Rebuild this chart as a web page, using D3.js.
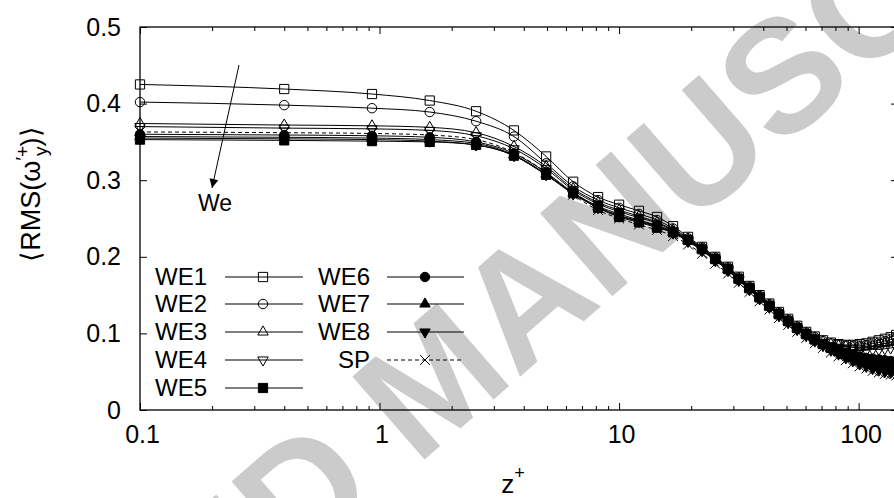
<!DOCTYPE html>
<html>
<head>
<meta charset="utf-8">
<script src="https://cdn.jsdelivr.net/npm/d3@7"></script>
<style>
  body { margin: 0; background: #fff; }
  text { font-family: "Liberation Sans", Arial, sans-serif; fill: #000; }
</style>
</head>
<body>
<div id="chart"></div>
<script>
const ancho = 894
const alto = 498

// z+ positions of the points
const zPlus = [0.1, 0.4, 0.93, 1.62, 2.53, 3.64, 4.96, 6.43, 8.17, 10, 12.1, 14.4, 16.8, 19.4,
  22.2, 25.2, 28.5, 31.6, 35, 38.6, 42.4, 46.5, 50.8, 55.4,
  60.4, 65.6, 71, 76.6, 82.4, 88.4, 94.6, 101, 107.6, 114.4, 121.4, 128.6, 136, 143.6]

const we1 = [0.425, 0.419, 0.4125, 0.404, 0.390, 0.365, 0.331, 0.298, 0.278, 0.268, 0.260, 0.252, 0.240, 0.226,
  0.213, 0.200, 0.187, 0.174, 0.162, 0.150, 0.139, 0.128, 0.119, 0.110,
  0.102, 0.096, 0.091, 0.088, 0.086, 0.085, 0.085, 0.086, 0.087, 0.089, 0.091, 0.093, 0.095, 0.098]
const we2 = [0.402, 0.398, 0.394, 0.389, 0.377, 0.357, 0.322, 0.292, 0.274, 0.264, 0.256, 0.248, 0.237, 0.224,
  0.212, 0.199, 0.186, 0.173, 0.161, 0.149, 0.138, 0.127, 0.118, 0.109,
  0.101, 0.095, 0.090, 0.087, 0.085, 0.084, 0.084, 0.084, 0.085, 0.087, 0.088, 0.090, 0.092, 0.094]
const we3 = [0.374, 0.372, 0.371, 0.369, 0.362, 0.344, 0.318, 0.289, 0.271, 0.261, 0.253, 0.245, 0.235, 0.223,
  0.211, 0.198, 0.185, 0.172, 0.160, 0.148, 0.137, 0.126, 0.117, 0.108,
  0.100, 0.094, 0.089, 0.086, 0.084, 0.083, 0.082, 0.082, 0.083, 0.084, 0.085, 0.087, 0.088, 0.090]
const we4 = [0.370, 0.368, 0.367, 0.365, 0.358, 0.341, 0.315, 0.287, 0.269, 0.259, 0.251, 0.244, 0.234, 0.222,
  0.210, 0.197, 0.184, 0.171, 0.159, 0.147, 0.136, 0.125, 0.116, 0.107,
  0.099, 0.093, 0.088, 0.084, 0.081, 0.079, 0.078, 0.078, 0.078, 0.079, 0.079, 0.080, 0.081, 0.082]
const we5 = [0.353, 0.352, 0.351, 0.350, 0.346, 0.332, 0.307, 0.283, 0.264, 0.252, 0.245, 0.238, 0.232, 0.222,
  0.210, 0.197, 0.184, 0.171, 0.159, 0.147, 0.136, 0.125, 0.116, 0.107,
  0.099, 0.092, 0.086, 0.081, 0.077, 0.073, 0.070, 0.067, 0.065, 0.063, 0.061, 0.060, 0.059, 0.058]
const we6 = [0.360, 0.359, 0.358, 0.356, 0.350, 0.335, 0.310, 0.284, 0.266, 0.256, 0.248, 0.241, 0.233, 0.221,
  0.209, 0.196, 0.183, 0.170, 0.158, 0.146, 0.135, 0.124, 0.115, 0.106,
  0.098, 0.092, 0.086, 0.082, 0.078, 0.075, 0.072, 0.070, 0.068, 0.067, 0.066, 0.065, 0.064, 0.064]
const we7 = [0.357, 0.356, 0.355, 0.353, 0.348, 0.333, 0.308, 0.283, 0.265, 0.254, 0.247, 0.240, 0.232, 0.221,
  0.209, 0.196, 0.183, 0.170, 0.158, 0.146, 0.135, 0.124, 0.115, 0.106,
  0.098, 0.091, 0.085, 0.080, 0.075, 0.071, 0.067, 0.063, 0.060, 0.058, 0.056, 0.054, 0.053, 0.052]
const we8 = [0.355, 0.354, 0.353, 0.351, 0.346, 0.332, 0.307, 0.282, 0.264, 0.253, 0.246, 0.239, 0.231, 0.220,
  0.208, 0.195, 0.182, 0.169, 0.157, 0.145, 0.134, 0.123, 0.114, 0.105,
  0.097, 0.090, 0.084, 0.078, 0.073, 0.068, 0.064, 0.060, 0.057, 0.054, 0.052, 0.050, 0.049, 0.048]
const sp = [0.363, 0.362, 0.361, 0.359, 0.353, 0.336, 0.310, 0.281, 0.261, 0.250, 0.242, 0.235, 0.227, 0.216,
  0.204, 0.191, 0.178, 0.166, 0.154, 0.142, 0.131, 0.120, 0.111, 0.102,
  0.094, 0.087, 0.081, 0.075, 0.070, 0.065, 0.061, 0.057, 0.054, 0.051, 0.049, 0.047, 0.046, 0.045]

const seriesNames = ["WE1", "WE2", "WE3", "WE4", "WE5", "WE6", "WE7", "WE8", "SP"]
const seriesValues = [we1, we2, we3, we4, we5, we6, we7, we8, sp]
const seriesMarker = ["square", "circle", "triUp", "triDown", "squareFill", "circleFill", "triUpFill", "triDownFill", "cross"]

const xTicks = [0.1, 1, 10, 100]
const xTickLabels = ["0.1", "1", "10", "100"]
const yTicks = [0, 0.1, 0.2, 0.3, 0.4, 0.5]
const yTickLabels = ["0", "0.1", "0.2", "0.3", "0.4", "0.5"]

const svg = d3.select("#chart").append("svg")
    .attr("width", ancho)
    .attr("height", alto)

// escalas
const x = d3.scaleLog().domain([0.1, 146]).range([140, 898])
const y = d3.scaleLinear().domain([0, 0.5]).range([410, 27])

// watermark behind everything
svg.append("text")
    .attr("transform", "translate(470,420) rotate(-41)")
    .attr("text-anchor", "middle")
    .style("font-size", "160px")
    .style("font-weight", "bold")
    .style("fill", "#cbcbcb")
    .text("ACCEPTED MANUSCRIPT")

// frame + ticks (gnuplot style, ticks inward and mirrored)
const frame = svg.append("g").attr("stroke", "#000").attr("fill", "none")
frame.append("rect")
    .attr("x", x.range()[0]).attr("y", y.range()[1])
    .attr("width", x.range()[1] - x.range()[0])
    .attr("height", y.range()[0] - y.range()[1])
    .attr("stroke-width", 1.3)

const minors = []
;[0.1, 1, 10, 100].forEach(d => { for (let k = 2; k <= 9; k++) if (d * k <= 146) minors.push(d * k) })

const ejeX = d3.axisBottom(x).tickValues(xTicks).tickSize(0).tickFormat((d, i) => xTickLabels[i])
const ejeXmin = d3.axisBottom(x).tickValues(minors).tickSize(-4).tickFormat("")
const ejeXmaj = d3.axisBottom(x).tickValues(xTicks).tickSize(-7).tickFormat("")
const ejeXtop = d3.axisTop(x).tickValues(xTicks).tickSize(-7).tickFormat("")
const ejeXtopMin = d3.axisTop(x).tickValues(minors).tickSize(-4).tickFormat("")
const ejeY = d3.axisLeft(y).tickValues(yTicks).tickSize(-7).tickFormat((d, i) => yTickLabels[i]).tickPadding(19)
const ejeYright = d3.axisRight(y).tickValues(yTicks).tickSize(-7).tickFormat("")

function estilo(g) {
  g.select(".domain").remove()
  g.selectAll("line").attr("stroke", "#000").attr("stroke-width", 1)
  g.selectAll("text").style("font-size", "25px").attr("fill", "#000")
}

svg.append("g").attr("transform", "translate(0,410)").call(ejeXmin).call(estilo)
svg.append("g").attr("transform", "translate(0,410)").call(ejeXmaj).call(estilo)
svg.append("g").attr("transform", "translate(2,410)").call(ejeX).call(estilo)
    .selectAll("text").attr("dy", "1.2em")
svg.append("g").attr("transform", "translate(0,27)").call(ejeXtop).call(estilo)
svg.append("g").attr("transform", "translate(0,27)").call(ejeXtopMin).call(estilo)
svg.append("g").attr("transform", "translate(140,0)").call(ejeY).call(estilo)
svg.append("g").attr("transform", "translate(898,0)").call(ejeYright).call(estilo)

// axis titles
svg.append("text")
    .attr("x", 513).attr("y", 493)
    .attr("text-anchor", "middle")
    .style("font-size", "26px")
    .html('z<tspan dy="-14" style="font-size:18px">+</tspan>')

const yl = svg.append("text")
    .attr("transform", "translate(40,194) rotate(-90)")
    .attr("text-anchor", "middle")
    .style("font-size", "27px")
yl.append("tspan").text("\u27e8RMS(\u03c9")
yl.append("tspan").attr("dy", -11).style("font-size", "19px").text("\u2032+")
yl.append("tspan").attr("dy", 18).attr("dx", -10).style("font-size", "19px").text("y")
yl.append("tspan").attr("dy", -7).text(")\u27e9")

// markers
function marker(sel, tipo) {
  const filled = /Fill/.test(tipo)
  let path
  if (tipo.startsWith("square")) path = d3.symbol().type(d3.symbolSquare).size(85)()
  else if (tipo.startsWith("circle")) path = d3.symbol().type(d3.symbolCircle).size(70)()
  else if (tipo.startsWith("triUp")) path = d3.symbol().type(d3.symbolTriangle).size(48)()
  else if (tipo.startsWith("triDown")) path = d3.symbol().type(d3.symbolTriangle).size(48)()
  else path = d3.symbol().type(d3.symbolX).size(64)()
  const p = sel.append("path").attr("d", path)
      .attr("fill", filled ? "#000" : "none")
      .attr("stroke", "#000").attr("stroke-width", 1)
  if (tipo.startsWith("triDown")) p.attr("transform", "rotate(180)")
  return p
}

const area = svg.append("g")
const linea = d3.line()
    .x(d => x(d[0]))
    .y(d => y(d[1]))
    .curve(d3.curveMonotoneX)

seriesValues.forEach((vals, i) => {
  const pts = zPlus.map((z, j) => [z, vals[j]])
  const g = area.append("g").attr("class", seriesNames[i])
  g.append("path")
      .datum(pts)
      .attr("d", linea)
      .attr("fill", "none")
      .attr("stroke", "#000")
      .attr("stroke-width", 1)
      .attr("stroke-dasharray", seriesNames[i] === "SP" ? "4,3" : null)
  g.selectAll("g.pt").data(pts).join("g")
      .attr("class", "pt")
      .attr("transform", d => `translate(${x(d[0])},${y(d[1])})`)
      .each(function() { marker(d3.select(this), seriesMarker[i]) })
})

// arrow with "We"
svg.append("defs").append("marker")
    .attr("id", "flecha")
    .attr("viewBox", "0 0 10 10")
    .attr("refX", 10).attr("refY", 5)
    .attr("markerWidth", 18).attr("markerHeight", 9)
    .attr("markerUnits", "userSpaceOnUse")
    .attr("orient", "auto")
    .append("path").attr("d", "M0,0 L10,5 L0,10 Z").attr("fill", "#000")
svg.append("line")
    .attr("x1", 239).attr("y1", 65).attr("x2", 212).attr("y2", 188)
    .attr("stroke", "#000").attr("stroke-width", 1)
    .attr("marker-end", "url(#flecha)")
svg.append("text")
    .attr("x", 215).attr("y", 211)
    .attr("text-anchor", "middle")
    .style("font-size", "23px")
    .text("We")

// legend
const leyenda = svg.append("g")
const colX = [{ text: 207, l1: 225, l2: 303, m: 263 }, { text: 370, l1: 387, l2: 464, m: 425 }]
const rowY = [277, 304, 332, 360, 388]
seriesNames.forEach((n, i) => {
  const c = colX[i < 5 ? 0 : 1]
  const yy = rowY[i < 5 ? i : i - 5]
  leyenda.append("text")
      .attr("x", c.text).attr("y", yy)
      .attr("dy", "0.35em")
      .attr("text-anchor", "end")
      .style("font-size", "24px")
      .text(n)
  leyenda.append("line")
      .attr("x1", c.l1).attr("x2", c.l2).attr("y1", yy).attr("y2", yy)
      .attr("stroke", "#000").attr("stroke-width", 1)
      .attr("stroke-dasharray", n === "SP" ? "4,3" : null)
  const g = leyenda.append("g").attr("transform", `translate(${c.m},${yy})`)
  marker(g, seriesMarker[i])
})
</script>
</body>
</html>
